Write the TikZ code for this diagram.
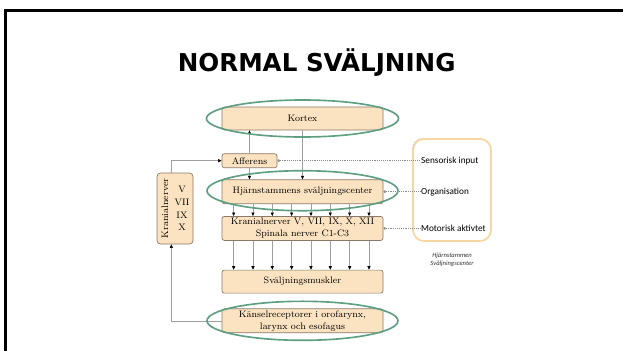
\documentclass[tikz,border=0pt]{standalone}
\usepackage{fontspec}
\usepackage{tikz}
\usetikzlibrary{
    arrows.meta,
    positioning,
    shapes.geometric,
    shadows
}
\newfontfamily\titlefont{DejaVu Sans}
\newfontfamily\labelfont{Carlito}
\definecolor{boxfill}{HTML}{FBE3C1}
\definecolor{boxedge}{HTML}{8A7968}
\definecolor{ringgreen}{HTML}{5E9F82}
\definecolor{sideedge}{HTML}{F8D6A2}

\begin{document}
\begin{tikzpicture}[
        node distance=0.4cm and 1.0cm,
        box/.style={rectangle, rounded corners=2pt, draw=boxedge, fill=boxfill,
                    line width=0.6pt, minimum width=4.83cm, minimum height=0.72cm,
                    inner sep=1pt, align=center,
                    font=\fontsize{8.0}{10.2}\selectfont},
        ring/.style={ellipse, draw=ringgreen, line width=1.4pt, inner sep=0pt},
        sidelabel/.style={font=\labelfont\fontsize{7.9}{9}\selectfont,
                          inner sep=0.5pt, anchor=west},
        arrow/.style={-{Triangle[length=3pt, width=2.6pt, color=black]},
                      draw=gray!75, line width=0.5pt},
        dotline/.style={{Circle[length=2.4pt, color=gray!80]}-, densely dotted,
                        draw=gray!90, line width=0.6pt},
    ]
    \useasboundingbox (0,0) rectangle (18.69,-10.53);

    % Slide frame and title
    \draw[line width=2.55pt] (18.69,-0.315) -- (0.174,-0.315) -- (0.174,-10.53);
    \node[font=\titlefont\bfseries\fontsize{21}{24}\selectfont] (title)
        at (9.50,-1.89) {NORMAL SVÄLJNING};

    % Nodes - main column (top to bottom)
    \node[box, minimum height=0.69cm] (kortex) at (9.075,-3.555) {Kortex};
    \node[box, minimum width=1.65cm, minimum height=0.42cm,
          below right=0.69cm and 0cm of kortex.south west] (afferens) {Afferens};
    \node[box, below=1.47cm of kortex] (hjarna) {Hjärnstammens sväljningscenter};
    \node[box, below=0.36cm of hjarna] (kranial)
        {Kranialnerver V, VII, IX, X, XII\\Spinala nerver C1-C3};
    \node[box, minimum height=0.69cm, below=0.87cm of kranial] (svalj)
        {Sväljningsmuskler};
    \node[box, below=0.45cm of svalj] (kansel)
        {Känselreceptorer i orofarynx,\\larynx och esofagus};

    % Left column - cranial nerves
    \node[box, minimum width=1.08cm, minimum height=2.13cm, rounded corners=3pt]
        (kranv) at (5.25,-6.255) {};
    \node[box, draw=none, fill=none, minimum width=0pt, minimum height=0pt,
          rotate=90] (kranvname) at ([xshift=-0.3cm]kranv.center) {Kranialnerver};
    \node[box, draw=none, fill=none, minimum width=0pt, minimum height=0pt,
          font=\fontsize{8.0}{10.8}\selectfont]
        (kranvlist) at ([xshift=0.21cm]kranv.center) {V\\VII\\IX\\X};

    % Right side - swallowing center
    \node[rectangle, rounded corners=0.33cm, draw=sideedge, line width=1.5pt,
          fill=white, minimum width=2.34cm, minimum height=3.06cm,
          drop shadow={shadow xshift=-0.7pt, shadow yshift=0.7pt,
                       fill=gray!55, opacity=1}]
        (center) at (13.56,-5.70) {};
    \node[sidelabel, right=4.29cm of afferens] (sens) {Sensorisk input};
    \node[sidelabel, right=1.11cm of hjarna] (org) {Organisation};
    \node[sidelabel, right=1.11cm of kranial] (motor) {Motorisk aktivtet};
    \node[font=\labelfont\itshape\fontsize{5.6}{7.4}\selectfont, text=black!80,
          align=center, below=0.2cm of center] (centercap)
        {Hjärnstammen\\Sväljningscenter};

    % Arrows
    \draw[arrow] (afferens.north) -- (afferens.north |- kortex.south);
    \draw[arrow] (afferens.south) -- (afferens.south |- hjarna.north);
    \draw[arrow] (kortex) -- (hjarna);
    \draw[arrow] ([xshift=-0.11cm]kranv.north) |- (afferens.west);
    \draw[arrow] (kansel.west) -| ([xshift=-0.11cm]kranv.south);
    \foreach \dx in {0.36,0.94,1.52,2.10,2.68,3.26,3.84,4.42} {
        \draw[arrow] ([xshift=\dx cm]hjarna.south west)
            -- ([xshift=\dx cm]kranial.north west);
        \draw[arrow] ([xshift=\dx cm]kranial.south west)
            -- ([xshift=\dx cm]svalj.north west);
    }

    % Dotted links to the swallowing center
    \draw[dotline] (afferens.east) -- (sens.west);
    \draw[dotline] (hjarna.east) -- (org.west);
    \draw[dotline] (kranial.east) -- (motor.west);

    % Green rings
    \node[ring, minimum width=5.76cm, minimum height=1.11cm] (kortexring)
        at (kortex.center) {};
    \node[ring, minimum width=5.73cm, minimum height=1.2cm] (hjarnaring)
        at ([yshift=0.03cm]hjarna.center) {};
    \node[ring, minimum width=5.73cm, minimum height=1.17cm] (kanselring)
        at (kansel.center) {};

    \end{tikzpicture}
\end{document}
